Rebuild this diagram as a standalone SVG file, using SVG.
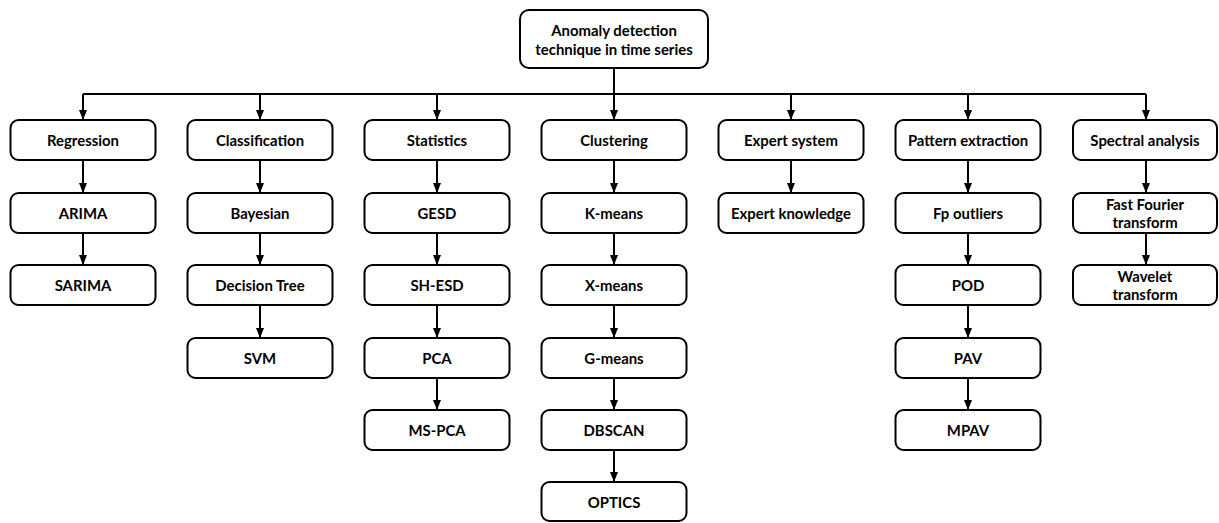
<svg xmlns="http://www.w3.org/2000/svg" width="1219" height="523" viewBox="0 0 1219 523">
<style>
.box{fill:#fff;stroke:#000;stroke-width:2}
.t{font-family:Lato,"Liberation Sans",sans-serif;font-weight:700;font-size:14.9px;fill:#000;text-anchor:middle;dominant-baseline:central}
.c{fill:none;stroke:#000;stroke-width:2}
</style>
<defs>
<marker id="ah" markerUnits="userSpaceOnUse" markerWidth="10" markerHeight="10" refX="9" refY="5" orient="auto"><path d="M0,1 L10,5 L0,9 z" fill="#000"/></marker>
</defs>
<g id="connectors">
<path class="c" d="M614,68 V94 M83,94 H1146"/>
<path class="c" marker-end="url(#ah)" d="M83,94 V119"/>
<path class="c" marker-end="url(#ah)" d="M260,94 V119"/>
<path class="c" marker-end="url(#ah)" d="M437,94 V119"/>
<path class="c" marker-end="url(#ah)" d="M614,94 V119"/>
<path class="c" marker-end="url(#ah)" d="M791,94 V119"/>
<path class="c" marker-end="url(#ah)" d="M968,94 V119"/>
<path class="c" marker-end="url(#ah)" d="M1146,94 V119"/>
<path class="c" marker-end="url(#ah)" d="M83,160 V192"/>
<path class="c" marker-end="url(#ah)" d="M83,233 V264"/>
<path class="c" marker-end="url(#ah)" d="M260,160 V192"/>
<path class="c" marker-end="url(#ah)" d="M260,233 V264"/>
<path class="c" marker-end="url(#ah)" d="M260,305 V337"/>
<path class="c" marker-end="url(#ah)" d="M437,160 V192"/>
<path class="c" marker-end="url(#ah)" d="M437,233 V264"/>
<path class="c" marker-end="url(#ah)" d="M437,305 V337"/>
<path class="c" marker-end="url(#ah)" d="M437,378 V409"/>
<path class="c" marker-end="url(#ah)" d="M614,160 V192"/>
<path class="c" marker-end="url(#ah)" d="M614,233 V264"/>
<path class="c" marker-end="url(#ah)" d="M614,305 V337"/>
<path class="c" marker-end="url(#ah)" d="M614,378 V409"/>
<path class="c" marker-end="url(#ah)" d="M614,450 V481"/>
<path class="c" marker-end="url(#ah)" d="M791,160 V192"/>
<path class="c" marker-end="url(#ah)" d="M968,160 V192"/>
<path class="c" marker-end="url(#ah)" d="M968,233 V264"/>
<path class="c" marker-end="url(#ah)" d="M968,305 V337"/>
<path class="c" marker-end="url(#ah)" d="M968,378 V409"/>
<path class="c" marker-end="url(#ah)" d="M1146,160 V192"/>
<path class="c" marker-end="url(#ah)" d="M1146,233 V264"/>
</g>
<g id="root"><rect class="box" x="520" y="10" width="188" height="58" rx="9"/><text class="t" x="614" y="30">Anomaly detection</text><text class="t" x="614" y="49">technique in time series</text></g>

<g id="regression"><rect class="box" x="10.5" y="120" width="145" height="40" rx="8"/><text class="t" x="83" y="140">Regression</text></g>
<g id="arima"><rect class="box" x="10.5" y="193" width="145" height="40" rx="8"/><text class="t" x="83" y="213">ARIMA</text></g>
<g id="sarima"><rect class="box" x="10.5" y="265" width="145" height="40" rx="8"/><text class="t" x="83" y="285">SARIMA</text></g>

<g id="classification"><rect class="box" x="187.5" y="120" width="145" height="40" rx="8"/><text class="t" x="260" y="140">Classification</text></g>
<g id="bayesian"><rect class="box" x="187.5" y="193" width="145" height="40" rx="8"/><text class="t" x="260" y="213">Bayesian</text></g>
<g id="decision-tree"><rect class="box" x="187.5" y="265" width="145" height="40" rx="8"/><text class="t" x="260" y="285">Decision Tree</text></g>
<g id="svm"><rect class="box" x="187.5" y="338" width="145" height="40" rx="8"/><text class="t" x="260" y="358">SVM</text></g>

<g id="statistics"><rect class="box" x="364.5" y="120" width="145" height="40" rx="8"/><text class="t" x="437" y="140">Statistics</text></g>
<g id="gesd"><rect class="box" x="364.5" y="193" width="145" height="40" rx="8"/><text class="t" x="437" y="213">GESD</text></g>
<g id="sh-esd"><rect class="box" x="364.5" y="265" width="145" height="40" rx="8"/><text class="t" x="437" y="285">SH-ESD</text></g>
<g id="pca"><rect class="box" x="364.5" y="338" width="145" height="40" rx="8"/><text class="t" x="437" y="358">PCA</text></g>
<g id="ms-pca"><rect class="box" x="364.5" y="410" width="145" height="40" rx="8"/><text class="t" x="437" y="430">MS-PCA</text></g>

<g id="clustering"><rect class="box" x="541.5" y="120" width="145" height="40" rx="8"/><text class="t" x="614" y="140">Clustering</text></g>
<g id="k-means"><rect class="box" x="541.5" y="193" width="145" height="40" rx="8"/><text class="t" x="614" y="213">K-means</text></g>
<g id="x-means"><rect class="box" x="541.5" y="265" width="145" height="40" rx="8"/><text class="t" x="614" y="285">X-means</text></g>
<g id="g-means"><rect class="box" x="541.5" y="338" width="145" height="40" rx="8"/><text class="t" x="614" y="358">G-means</text></g>
<g id="dbscan"><rect class="box" x="541.5" y="410" width="145" height="40" rx="8"/><text class="t" x="614" y="430">DBSCAN</text></g>
<g id="optics"><rect class="box" x="541.5" y="482" width="145" height="39" rx="8"/><text class="t" x="614" y="502">OPTICS</text></g>

<g id="expert-system"><rect class="box" x="718.5" y="120" width="145" height="40" rx="8"/><text class="t" x="791" y="140">Expert system</text></g>
<g id="expert-knowledge"><rect class="box" x="718.5" y="193" width="145" height="40" rx="8"/><text class="t" x="791" y="213">Expert knowledge</text></g>

<g id="pattern-extraction"><rect class="box" x="895.5" y="120" width="145" height="40" rx="8"/><text class="t" x="968" y="140">Pattern extraction</text></g>
<g id="fp-outliers"><rect class="box" x="895.5" y="193" width="145" height="40" rx="8"/><text class="t" x="968" y="213">Fp outliers</text></g>
<g id="pod"><rect class="box" x="895.5" y="265" width="145" height="40" rx="8"/><text class="t" x="968" y="285">POD</text></g>
<g id="pav"><rect class="box" x="895.5" y="338" width="145" height="40" rx="8"/><text class="t" x="968" y="358">PAV</text></g>
<g id="mpav"><rect class="box" x="895.5" y="410" width="145" height="40" rx="8"/><text class="t" x="968" y="430">MPAV</text></g>

<g id="spectral-analysis"><rect class="box" x="1073" y="120" width="144" height="40" rx="8"/><text class="t" x="1145" y="140">Spectral analysis</text></g>
<g id="fft"><rect class="box" x="1073" y="193" width="144" height="40" rx="8"/><text class="t" x="1145" y="204">Fast Fourier</text><text class="t" x="1145" y="222">transform</text></g>
<g id="wavelet"><rect class="box" x="1073" y="265" width="144" height="40" rx="8"/><text class="t" x="1145" y="276">Wavelet</text><text class="t" x="1145" y="294">transform</text></g>
</svg>
